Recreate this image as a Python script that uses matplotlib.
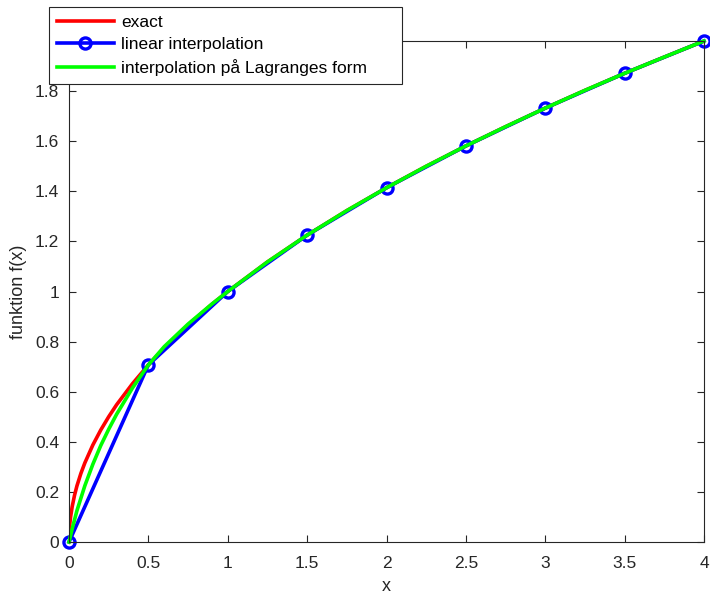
import matplotlib
matplotlib.use("Agg")
import matplotlib.pyplot as plt

plt.rcParams['font.family'] = ['Liberation Sans', 'DejaVu Sans']

# exact curve
x_exact = [0, 0.002, 0.005, 0.01, 0.02, 0.035, 0.05, 0.075, 0.1, 0.15, 0.2, 0.25, 0.3,
           0.4, 0.5, 0.6, 0.75, 0.9, 1.0, 1.25, 1.5, 1.75, 2.0, 2.25, 2.5, 2.75, 3.0,
           3.25, 3.5, 3.75, 4.0]
y_exact = [0, 0.045, 0.071, 0.1, 0.141, 0.187, 0.224, 0.274, 0.316, 0.387, 0.447, 0.5, 0.548,
           0.632, 0.707, 0.775, 0.866, 0.949, 1.0, 1.118, 1.225, 1.323, 1.414, 1.5, 1.581, 1.658,
           1.732, 1.803, 1.871, 1.936, 2.0]

# interpolation nodes
x_nodes = [0, 0.5, 1.0, 1.5, 2.0, 2.5, 3.0, 3.5, 4.0]
y_nodes = [0, 0.707, 1.0, 1.225, 1.414, 1.581, 1.732, 1.871, 2.0]

# Lagrange polynomial curve
x_lagr = [0, 0.025, 0.05, 0.1, 0.15, 0.2, 0.25, 0.3, 0.4, 0.5, 0.6, 0.75, 0.9, 1.0,
          1.25, 1.5, 1.75, 2.0, 2.25, 2.5, 2.75, 3.0, 3.25, 3.5, 3.75, 4.0]
y_lagr = [0, 0.065, 0.125, 0.225, 0.31, 0.385, 0.45, 0.51, 0.615, 0.707, 0.78, 0.87, 0.95, 1.0,
          1.118, 1.225, 1.323, 1.414, 1.5, 1.581, 1.658, 1.732, 1.803, 1.871, 1.936, 2.0]

x_ticks = [0, 0.5, 1, 1.5, 2, 2.5, 3, 3.5, 4]
x_ticklabels = ['0', '0.5', '1', '1.5', '2', '2.5', '3', '3.5', '4']
y_ticks = [0, 0.2, 0.4, 0.6, 0.8, 1.0, 1.2, 1.4, 1.6, 1.8, 2.0]
y_ticklabels = ['0', '0.2', '0.4', '0.6', '0.8', '1', '1.2', '1.4', '1.6', '1.8', '2']

fig = plt.figure(figsize=(7.10, 5.97), dpi=100)
ax = fig.add_axes([69 / 710, 1 - 542 / 597, 635 / 710, 501 / 597])

ax.plot(x_exact, y_exact, color=(1, 0, 0), lw=2.6, label='exact')
ax.plot(x_nodes, y_nodes, color=(0, 0, 1), lw=2.6, marker='o', markersize=8,
        markerfacecolor='none', markeredgewidth=2.4, clip_on=False,
        label='linear interpolation')
ax.plot(x_lagr, y_lagr, color=(0, 1, 0), lw=2.6, clip_on=False,
        label='interpolation på Lagranges form')

ax.set_xlim(0, 4)
ax.set_ylim(0, 2)
ax.set_xticks(x_ticks)
ax.set_xticklabels(x_ticklabels)
ax.set_yticks(y_ticks)
ax.set_yticklabels(y_ticklabels)
ax.tick_params(direction='in', length=5, width=0.8, colors='#262626', labelsize=12.5,
               top=True, right=True)
ax.tick_params(axis='x', pad=10)
ax.tick_params(axis='y', pad=7)
for s in ax.spines.values():
    s.set_color('#262626')
    s.set_linewidth(0.8)

ax.set_xlabel('x', fontsize=13, color='#262626', labelpad=5)
ax.set_ylabel('funktion f(x)', fontsize=13, color='#262626', labelpad=6)

leg = ax.legend(loc='upper left',
                bbox_to_anchor=(49 / 710, 1 - 81 / 597, 353 / 710, 74 / 597),
                bbox_transform=fig.transFigure, mode='expand', borderaxespad=0,
                fontsize=12.5, handlelength=3.3, handletextpad=0.4, fancybox=False,
                framealpha=1, edgecolor='#262626', labelspacing=0.4, borderpad=0.45)
leg.get_frame().set_linewidth(0.8)
leg.set_zorder(5)

fig.savefig('out.png', dpi=100)
